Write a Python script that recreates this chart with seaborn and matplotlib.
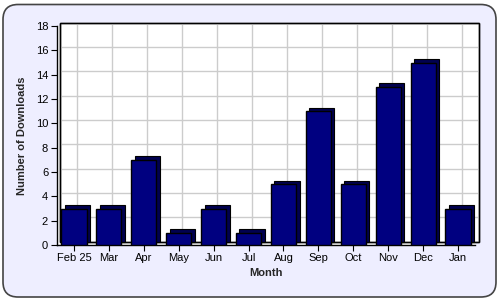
import matplotlib
matplotlib.use("Agg")
import matplotlib.pyplot as plt
import matplotlib.transforms as mtransforms
from matplotlib.patches import FancyBboxPatch, Rectangle
import seaborn as sns
import pandas as pd

months = ["Feb 25", "Mar", "Apr", "May", "Jun", "Jul", "Aug", "Sep", "Oct", "Nov", "Dec", "Jan"]
downloads = [3, 3, 7, 1, 3, 1, 5, 11, 5, 13, 15, 3]
yticks = list(range(0, 19, 2))

df = pd.DataFrame({"Month": months, "Downloads": downloads})

sns.set_theme(style="white")
plt.rcParams["font.family"] = ["Liberation Sans", "DejaVu Sans"]

fig = plt.figure(figsize=(5, 3), dpi=100)
fig.patch.set_facecolor("white")
bg = FancyBboxPatch((0.006, 0.01), 0.986, 0.975, boxstyle="round,pad=0,rounding_size=0.03",
                    transform=fig.transFigure, facecolor="#eeeeff", edgecolor="#444444",
                    linewidth=1.2, mutation_aspect=5/3, zorder=-10)
fig.patches.append(bg)

ax = fig.add_axes([0.113, 0.1833, 0.838, 0.73])
ax.set_zorder(5)
ax.set_facecolor("white")

off = mtransforms.ScaledTranslation(3.5/100, 3.5/100, fig.dpi_scale_trans)

# back wall (offset for 3D depth)
wall = Rectangle((0, 0), 1, 1, transform=ax.transAxes + off, facecolor="white",
                 edgecolor="black", linewidth=1.0, clip_on=False, zorder=0)
ax.add_patch(wall)
ncat = len(months)
ax.hlines(yticks, -0.5, ncat - 0.5, colors="#cccccc", linewidth=1.0,
          transform=ax.transData + off, clip_on=False, zorder=0.5)
ax.vlines(range(ncat), 0, 18, colors="#cccccc", linewidth=1.0,
          transform=ax.transData + off, clip_on=False, zorder=0.5)
wall2 = Rectangle((0, 0), 1, 1, transform=ax.transAxes + off, facecolor="none",
                  edgecolor="black", linewidth=1.0, clip_on=False, zorder=0.6)
ax.add_patch(wall2)

# 3D depth shadow bars
n0 = len(ax.patches)
sns.barplot(data=df, x="Month", y="Downloads", ax=ax, color="#000050", width=0.72,
            saturation=1, edgecolor="black", linewidth=0.8, zorder=2)
for p in ax.patches[n0:]:
    p.set_transform(ax.transData + off)
sns.barplot(data=df, x="Month", y="Downloads", ax=ax, color="#000080", width=0.72,
            saturation=1, edgecolor="black", linewidth=1.0, zorder=3)

ax.set_ylim(0, 18)
ax.set_yticks(yticks)
ax.set_xlim(-0.5, ncat - 0.5)
ax.grid(False)
for s in ["top", "right"]:
    ax.spines[s].set_visible(False)
ax.spines["left"].set_color("black")
ax.spines["bottom"].set_color("black")
ax.spines["left"].set_linewidth(1.0)
ax.spines["bottom"].set_linewidth(1.0)
ax.tick_params(axis="both", which="both", length=4, width=0.8, color="black",
               labelsize=8, colors="black", bottom=True, left=True, pad=2)
ax.set_xlabel("Month", fontsize=8, fontweight="bold", labelpad=3)
ax.set_ylabel("Number of Downloads", fontsize=8, fontweight="bold", labelpad=6)

fig.savefig("out.png", dpi=100, facecolor=fig.get_facecolor())
